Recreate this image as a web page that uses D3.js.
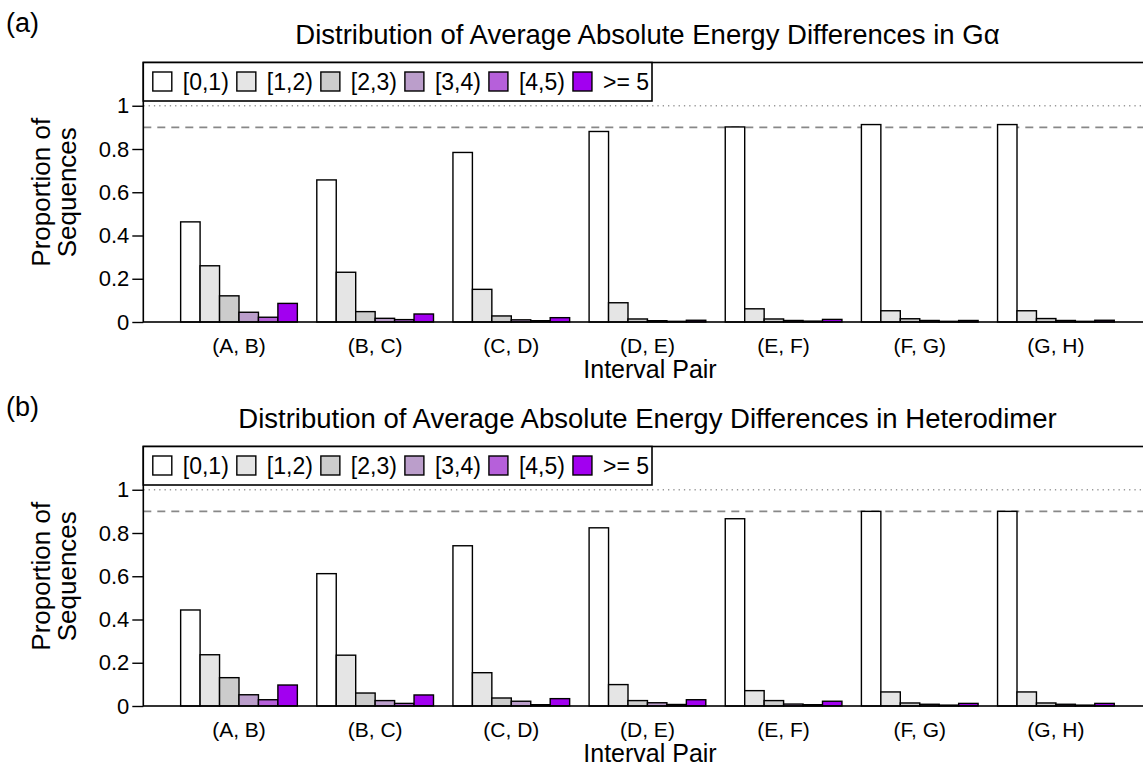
<!DOCTYPE html>
<html lang="en">
<head>
    <meta charset="UTF-8">
    <title>Average Absolute Energy Differences</title>
    <script src="https://d3js.org/d3.v7.min.js"></script>
    <style>
        body { margin: 0; background: #fff; }
        svg { display: block; font-family: "Liberation Sans", Arial, sans-serif; }
    </style>
</head>
<body>
    <div id="chart"></div>
    <script>
        // interval pairs (groups) and energy-difference bins (series)
        var pairs = ["(A, B)", "(B, C)", "(C, D)", "(D, E)", "(E, F)", "(F, G)", "(G, H)"];
        var bins = ["[0,1)", "[1,2)", "[2,3)", "[3,4)", "[4,5)", ">= 5"];
        var binColors = ["#ffffff", "#e5e5e5", "#cccccc", "#bb9ecb", "#b660da", "#a200f0"];

        // proportion of sequences, one row per pair, one value per bin
        var galpha = [
            [0.463, 0.260, 0.121, 0.045, 0.022, 0.086],
            [0.657, 0.230, 0.048, 0.017, 0.011, 0.037],
            [0.784, 0.151, 0.028, 0.010, 0.006, 0.020],
            [0.881, 0.089, 0.014, 0.006, 0.003, 0.008],
            [0.902, 0.061, 0.014, 0.007, 0.004, 0.012],
            [0.913, 0.052, 0.015, 0.007, 0.003, 0.007],
            [0.913, 0.052, 0.016, 0.007, 0.003, 0.008]
        ];
        var hetero = [
            [0.444, 0.237, 0.131, 0.052, 0.029, 0.097],
            [0.612, 0.235, 0.060, 0.025, 0.012, 0.051],
            [0.741, 0.154, 0.037, 0.022, 0.006, 0.034],
            [0.824, 0.099, 0.025, 0.015, 0.007, 0.029],
            [0.866, 0.071, 0.025, 0.009, 0.006, 0.022],
            [0.900, 0.065, 0.014, 0.008, 0.004, 0.012],
            [0.900, 0.065, 0.014, 0.008, 0.004, 0.012]
        ];

        var yTicks = [0, 0.2, 0.4, 0.6, 0.8, 1];
        var yTickLabels = ["0", "0.2", "0.4", "0.6", "0.8", "1"];

        var panels = [
            { tag: "(a)", title: "Distribution of Average Absolute Energy Differences in G\u03B1", values: galpha },
            { tag: "(b)", title: "Distribution of Average Absolute Energy Differences in Heterodimer", values: hetero }
        ];

        var width = 1143, height = 768;
        var svg = d3.select("#chart").append("svg")
            .attr("width", width)
            .attr("height", height);

        // x in bar units: 7 groups of 6 bars, one empty bar before each group
        var xu = d3.scaleLinear().domain([-0.92, 50.92]).range([143.3, 1151.6]);
        var x0 = d3.scaleBand().domain(pairs)
            .range([xu(0.5), xu(49.5)])
            .paddingInner(1 / 7)
            .paddingOuter(1 / 14);
        var x1 = d3.scaleBand().domain(bins).range([0, x0.bandwidth()]);

        panels.forEach(function(p, k) {
            var off = k * 384;
            var g = svg.append("g").attr("transform", "translate(0," + off + ")");
            var y = d3.scaleLinear().domain([0, 1.2]).range([322, 62.5]);
            var left = xu.range()[0], right = xu.range()[1];

            // panel tag + title
            g.append("text").attr("x", 6).attr("y", 32)
                .attr("font-size", 27).text(p.tag);
            g.append("text").attr("x", (left + right) / 2).attr("y", 44)
                .attr("text-anchor", "middle").attr("font-size", 27.5).text(p.title);

            // reference lines
            g.append("line")
                .attr("x1", left).attr("x2", right)
                .attr("y1", y(1)).attr("y2", y(1))
                .attr("stroke", "#999").attr("stroke-width", 1.3)
                .attr("stroke-dasharray", "1.3,4");
            g.append("line")
                .attr("x1", left).attr("x2", right)
                .attr("y1", y(0.9)).attr("y2", y(0.9))
                .attr("stroke", "#888").attr("stroke-width", 1.6)
                .attr("stroke-dasharray", "8,6");

            // bars
            var groups = g.append("g").selectAll("g")
                .data(p.values)
                .enter().append("g")
                .attr("transform", function(d, i) { return "translate(" + x0(pairs[i]) + ",0)"; });
            groups.selectAll("rect")
                .data(function(d) { return d.map(function(v, j) { return { bin: bins[j], v: v, c: binColors[j] }; }); })
                .enter().append("rect")
                .attr("x", function(d) { return x1(d.bin); })
                .attr("width", x1.bandwidth())
                .attr("y", function(d) { return y(d.v); })
                .attr("height", function(d) { return y(0) - y(d.v); })
                .attr("fill", function(d) { return d.c; })
                .attr("stroke", "#000").attr("stroke-width", 1.4);

            // plot box
            g.append("rect")
                .attr("x", left).attr("y", y(1.2))
                .attr("width", right - left).attr("height", y(0) - y(1.2))
                .attr("fill", "none").attr("stroke", "#000").attr("stroke-width", 1.6);

            // y axis
            var yAxis = d3.axisLeft(y).tickValues(yTicks)
                .tickFormat(function(d, i) { return yTickLabels[i]; })
                .tickSize(11).tickPadding(3);
            var ya = g.append("g").attr("transform", "translate(" + left + ",0)").call(yAxis);
            ya.select(".domain").remove();
            ya.selectAll("line").attr("stroke-width", 1.4);
            ya.selectAll("text").attr("font-size", 22).attr("font-family", "Liberation Sans, Arial, sans-serif")
                .attr("fill", "#000");

            // x axis labels (no ticks)
            var xAxis = d3.axisBottom(x0).tickSize(0).tickPadding(16);
            var xa = g.append("g").attr("transform", "translate(0," + y(0) + ")").call(xAxis);
            xa.select(".domain").remove();
            xa.selectAll("text").attr("font-size", 21).attr("font-family", "Liberation Sans, Arial, sans-serif")
                .attr("fill", "#000");

            g.append("text").attr("x", 650).attr("y", 378)
                .attr("text-anchor", "middle").attr("font-size", 25).text("Interval Pair");

            // y title on two lines
            var yt = g.append("text")
                .attr("transform", "translate(0," + ((y(0) + y(1.2)) / 2) + ") rotate(-90)")
                .attr("text-anchor", "middle").attr("font-size", 26);
            yt.append("tspan").attr("x", 0).attr("y", 49.5).text("Proportion of");
            yt.append("tspan").attr("x", 0).attr("y", 76).text("Sequences");

            // legend
            var lg = g.append("g");
            var lgBox = lg.append("rect")
                .attr("x", left).attr("y", y(1.2))
                .attr("height", 38.5)
                .attr("fill", "#fff").attr("stroke", "#000").attr("stroke-width", 1.6);
            var lx = left + 9.5;
            bins.forEach(function(b, j) {
                lg.append("rect")
                    .attr("x", lx).attr("y", y(1.2) + 9.5)
                    .attr("width", 19).attr("height", 19)
                    .attr("fill", binColors[j]).attr("stroke", "#000").attr("stroke-width", 1.4);
                var t = lg.append("text")
                    .attr("x", lx + 30).attr("y", y(1.2) + 27.5)
                    .attr("font-size", 23).text(b);
                lx = lx + 30 + t.node().getComputedTextLength() + 8;
            });
            lgBox.attr("width", lx - left - 5);
        });
    </script>
</body>
</html>
